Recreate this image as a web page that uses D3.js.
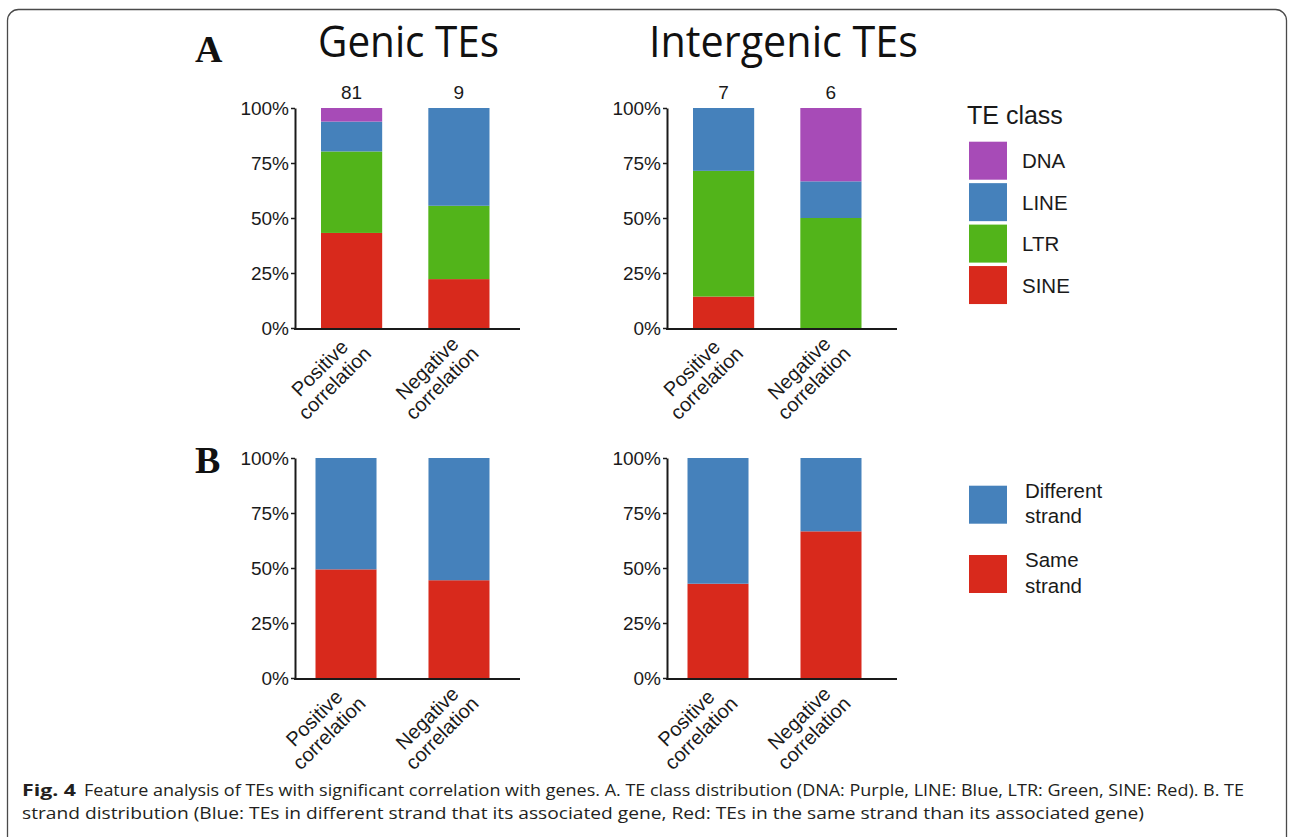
<!DOCTYPE html>
<html>
<head>
<meta charset="utf-8">
<script src="https://cdn.jsdelivr.net/npm/d3@7"></script>
<style>
  body { margin: 0; background: #fff; }
  svg { display: block; }
</style>
</head>
<body>
<svg id="fig" width="1290" height="837"></svg>
<script>
// ---- data -------------------------------------------------------------
const categories = ["Positive correlation", "Negative correlation"];
const teClasses = ["SINE", "LTR", "LINE", "DNA"];          // stacking order, bottom to top
const strandClasses = ["Same", "Different"];

// TE counts per class (Positive, Negative)
const genicSINE = [35, 2];
const genicLTR  = [30, 3];
const genicLINE = [11, 4];
const genicDNA  = [5, 0];
const interSINE = [1, 0];
const interLTR  = [4, 3];
const interLINE = [2, 1];
const interDNA  = [0, 2];

// strand relation to the associated gene (Positive, Negative)
const genicSame      = [40, 4];
const genicDifferent = [41, 5];
const interSame      = [3, 4];
const interDifferent = [4, 2];

const percentTicks = [0, 0.25, 0.5, 0.75, 1];
const panelTitles = ["Genic TEs", "Intergenic TEs"];

// ---- styling ----------------------------------------------------------
const classColors = { DNA: "#a74bb7", LINE: "#4581bb", LTR: "#52b41a", SINE: "#d8291c" };
const strandColors = { Different: "#4581bb", Same: "#d8291c" };
const sans = "'Liberation Sans', Arial, Helvetica, sans-serif";
const ink = "#1a1a1a";

const svg = d3.select("#fig");
svg.append("rect").attr("width", 1290).attr("height", 837).attr("fill", "#fff");

// figure frame
svg.append("rect")
  .attr("x", 7.5).attr("y", 9.5)
  .attr("width", 1279).attr("height", 840)
  .attr("rx", 11).attr("ry", 11)
  .attr("fill", "none").attr("stroke", "#4a4a4a").attr("stroke-width", 1.3);

function buildRows(series, keys) {
  const totals = categories.map((_, i) => d3.sum(series, s => s[i]));
  const rows = categories.map((cat, i) => {
    const r = { cat };
    keys.forEach((k, j) => { r[k] = totals[i] ? series[j][i] / totals[i] : 0; });
    return r;
  });
  return { rows, totals };
}

function drawPanel(opt) {
  const g = svg.append("g");
  const y = d3.scaleLinear().domain([0, 1]).range([opt.yBase, opt.yTop]);
  const x = d3.scaleBand().domain(categories)
    .range([opt.x0 + opt.bandFrom, opt.x0 + opt.bandTo])
    .paddingInner(opt.padIn).paddingOuter(0);

  const stacked = d3.stack().keys(opt.keys)(opt.rows);
  g.selectAll("g.layer").data(stacked).join("g")
    .attr("class", "layer")
    .attr("fill", d => opt.colors[d.key])
    .selectAll("rect").data(d => d).join("rect")
      .attr("x", d => x(d.data.cat))
      .attr("width", x.bandwidth())
      .attr("y", d => y(d[1]))
      .attr("height", d => y(d[0]) - y(d[1]));

  // y axis
  g.append("g")
    .attr("transform", `translate(${opt.x0},0)`)
    .call(d3.axisLeft(y).tickValues(percentTicks).tickFormat(d3.format(".0%"))
      .tickSize(4).tickSizeOuter(0).tickPadding(2))
    .call(a => {
      a.select(".domain").attr("stroke", ink).attr("stroke-width", 2);
      a.selectAll(".tick line").attr("stroke", ink).attr("stroke-width", 1.5);
      a.selectAll(".tick text").attr("font-family", sans).attr("font-size", 19).attr("fill", ink);
    });

  // x baseline
  g.append("line")
    .attr("x1", opt.x0 - 1).attr("x2", opt.x0 + opt.axisLen)
    .attr("y1", opt.yBase + 1).attr("y2", opt.yBase + 1)
    .attr("stroke", ink).attr("stroke-width", 2);

  // rotated two-line category labels, lines centred within the block,
  // block anchored at its right edge below the bar
  categories.forEach(cat => {
    const cx = x(cat) + x.bandwidth() / 2;
    const t = g.append("text")
      .attr("transform", `translate(${cx + 6},${opt.yBase + 12}) rotate(-45)`)
      .attr("text-anchor", "middle")
      .attr("font-family", sans).attr("font-size", 20).attr("fill", ink);
    const spans = cat.split(" ").map((w, k) =>
      t.append("tspan").attr("y", k * 21).text(w));
    const widest = d3.max(spans, s => s.node().getComputedTextLength());
    spans.forEach(s => s.attr("x", -widest / 2));
  });

  // sample sizes above bars
  if (opt.totals) {
    categories.forEach((cat, i) => {
      g.append("text")
        .attr("x", x(cat) + x.bandwidth() / 2)
        .attr("y", opt.yTop - 9)
        .attr("text-anchor", "middle")
        .attr("font-family", sans).attr("font-size", 19).attr("fill", ink)
        .text(opt.totals[i]);
    });
  }
}

// ---- panel A: TE class ------------------------------------------------
const gA = buildRows([genicSINE, genicLTR, genicLINE, genicDNA], teClasses);
const iA = buildRows([interSINE, interLTR, interLINE, interDNA], teClasses);
const panelA = { yBase: 328, yTop: 108, bandFrom: 26, bandTo: 194.5, padIn: 0.43,
                 keys: teClasses, colors: classColors };
drawPanel({ ...panelA, x0: 295, axisLen: 225, rows: gA.rows, totals: gA.totals });
drawPanel({ ...panelA, x0: 667, axisLen: 230, rows: iA.rows, totals: iA.totals });

// ---- panel B: strand ----------------------------------------------------
const gB = buildRows([genicSame, genicDifferent], strandClasses);
const iB = buildRows([interSame, interDifferent], strandClasses);
const panelB = { yBase: 678, yTop: 458, bandFrom: 20.5, bandTo: 194.5, padIn: 0.46,
                 keys: strandClasses, colors: strandColors };
drawPanel({ ...panelB, x0: 295, axisLen: 225, rows: gB.rows });
drawPanel({ ...panelB, x0: 667, axisLen: 230, rows: iB.rows });

// ---- titles and panel letters -------------------------------------------
const titleX = [408.5, 783.5];
const titleLen = [181, 269];
panelTitles.forEach((t, i) => {
  svg.append("text")
    .attr("x", titleX[i]).attr("y", 57)
    .attr("text-anchor", "middle")
    .attr("font-family", "'Open Sans', sans-serif").attr("font-size", 44)
    .attr("textLength", titleLen[i]).attr("lengthAdjust", "spacingAndGlyphs")
    .attr("fill", "#111").text(t);
});
[["A", 62], ["B", 473]].forEach(([l, yy]) => {
  svg.append("text").attr("x", 195).attr("y", yy)
    .attr("font-family", "'Liberation Serif', 'Times New Roman', serif")
    .attr("font-weight", "bold").attr("font-size", 38).attr("fill", "#111").text(l);
});

// ---- legends ------------------------------------------------------------
svg.append("text").attr("x", 967).attr("y", 123.5)
  .attr("font-family", sans).attr("font-size", 25).attr("fill", ink).text("TE class");

const legendOrder = teClasses.slice().reverse();
legendOrder.forEach((k, i) => {
  const y0 = 141.7 + i * 41.45;
  svg.append("rect").attr("x", 969).attr("y", y0).attr("width", 38).attr("height", 38)
    .attr("fill", classColors[k]);
  svg.append("text").attr("x", 1022).attr("y", y0 + 19 + 7.6)
    .attr("font-family", sans).attr("font-size", 20.5).attr("fill", ink).text(k);
});

const strandLegend = [["Different", "Different", "strand"], ["Same", "Same", "strand"]];
strandLegend.forEach(([k, l1, l2], i) => {
  const y0 = 485.7 + i * 69.3;
  svg.append("rect").attr("x", 969).attr("y", y0).attr("width", 38).attr("height", 38)
    .attr("fill", strandColors[k]);
  const t = svg.append("text").attr("font-family", sans).attr("font-size", 20.5).attr("fill", ink);
  t.append("tspan").attr("x", 1025).attr("y", y0 + 12).text(l1);
  t.append("tspan").attr("x", 1025).attr("y", y0 + 37.6).text(l2);
});

// ---- caption ------------------------------------------------------------
const capFont = "'Open Sans', sans-serif";
svg.append("text").attr("x", 22).attr("y", 796)
  .attr("font-family", capFont).attr("font-weight", "bold").attr("font-size", 16.5)
  .attr("textLength", 54).attr("lengthAdjust", "spacingAndGlyphs")
  .attr("fill", "#231f20").text("Fig. 4");
svg.append("text").attr("x", 84).attr("y", 796)
  .attr("font-family", capFont).attr("font-size", 16.5)
  .attr("textLength", 1160).attr("lengthAdjust", "spacingAndGlyphs")
  .attr("fill", "#231f20")
  .text("Feature analysis of TEs with significant correlation with genes. A. TE class distribution (DNA: Purple, LINE: Blue, LTR: Green, SINE: Red). B. TE");
svg.append("text").attr("x", 22).attr("y", 819)
  .attr("font-family", capFont).attr("font-size", 16.5)
  .attr("textLength", 1122).attr("lengthAdjust", "spacingAndGlyphs")
  .attr("fill", "#231f20")
  .text("strand distribution (Blue: TEs in different strand that its associated gene, Red: TEs in the same strand than its associated gene)");
</script>
</body>
</html>
